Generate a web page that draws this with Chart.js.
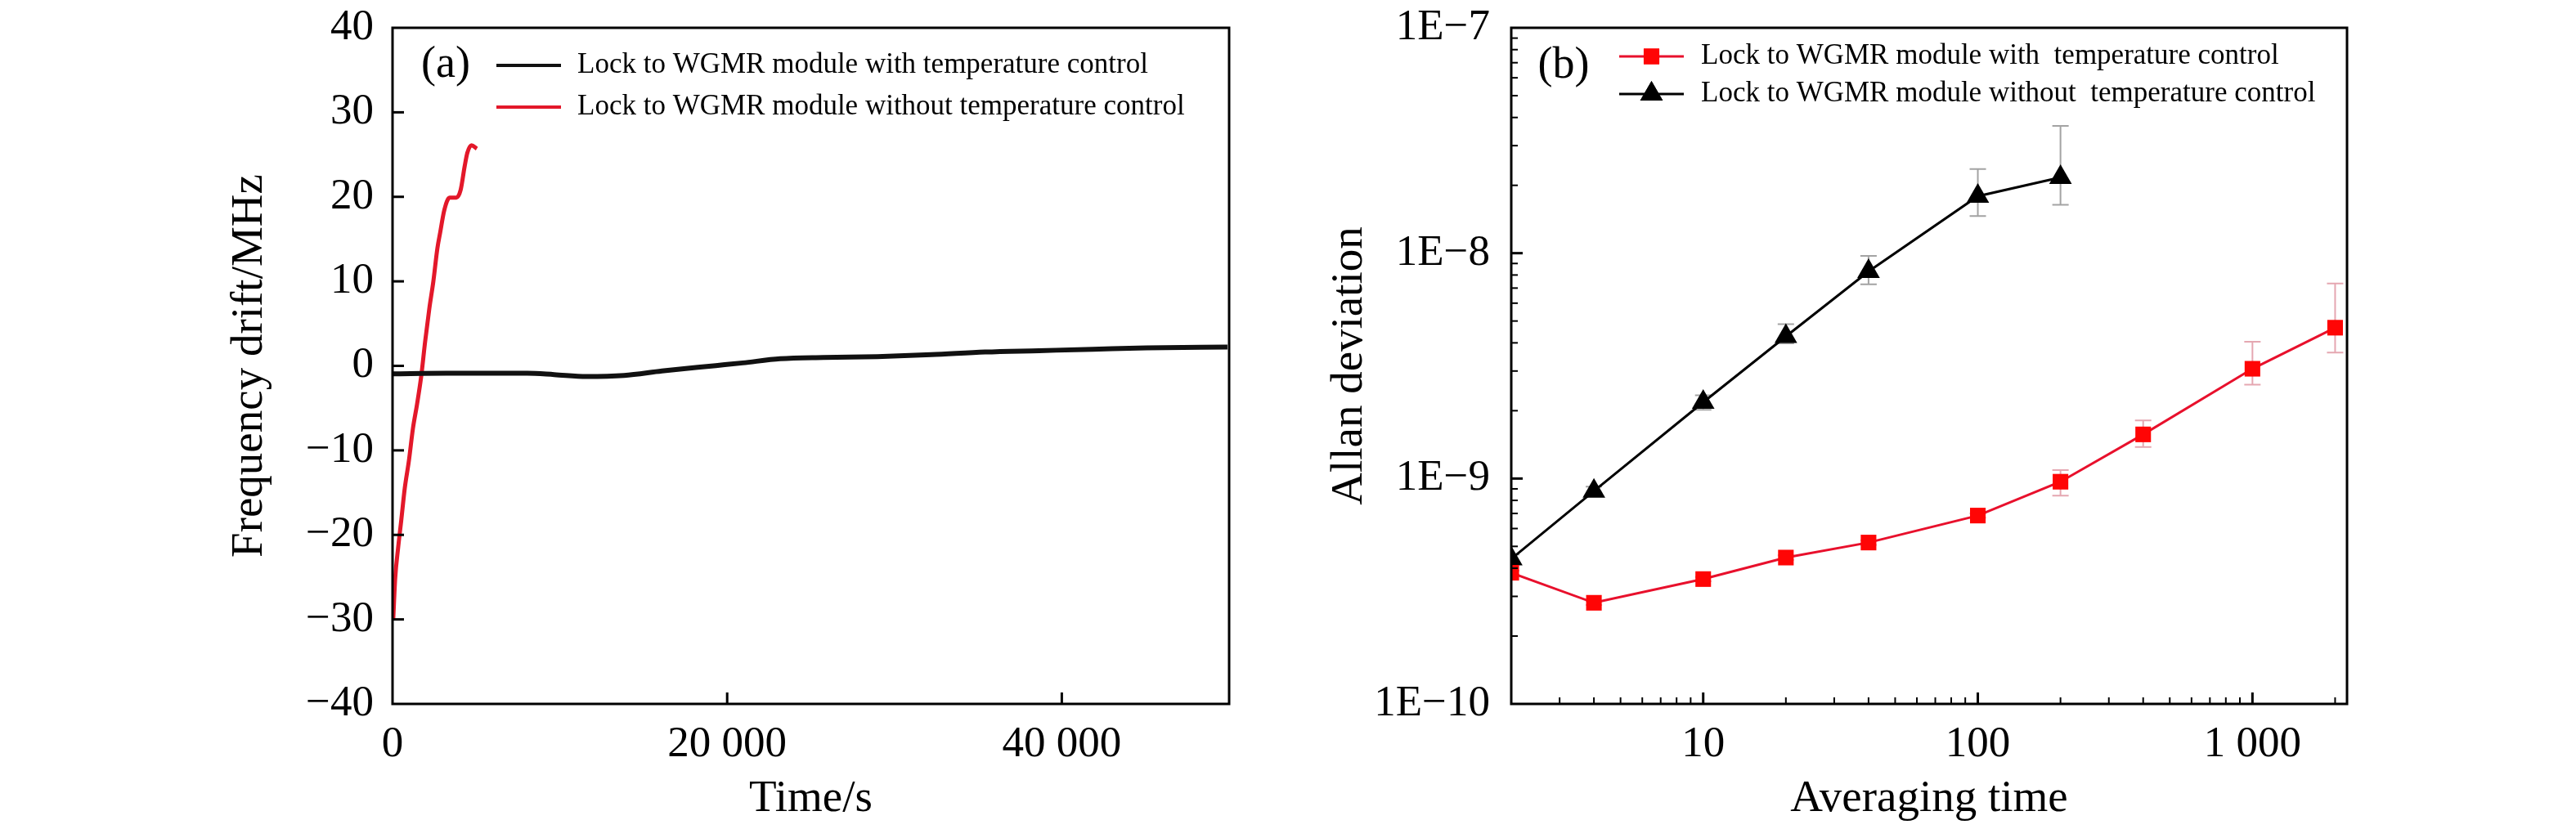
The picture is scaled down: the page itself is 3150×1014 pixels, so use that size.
<!DOCTYPE html>
<html><head><meta charset="utf-8">
<script src="https://cdn.jsdelivr.net/npm/chart.js@4/dist/chart.umd.min.js"></script>
<style>
html,body{margin:0;padding:0;background:#fff;width:3150px;height:1014px;overflow:hidden}
canvas{position:absolute;top:0}
#ca{left:0}
#cb{left:1575px}
</style></head>
<body>
<canvas id="ca" width="1575" height="1014"></canvas>
<canvas id="cb" width="1575" height="1014"></canvas>
<script>
const FONT = "'Liberation Serif','Times New Roman',serif";

// ---------- Panel (a) data ----------
const panelA = '(a)';
const labelA1 = 'Lock to WGMR module with temperature control';
const labelA2 = 'Lock to WGMR module without temperature control';
const timeWith = [0, 3220, 8050, 9660, 11590, 13840, 16100, 19320, 20930, 23170, 25750, 28970, 32200, 35420, 38640, 41850, 45070, 49900];
const driftWith = [-0.94, -0.87, -0.87, -1.03, -1.26, -1.13, -0.61, 0.03, 0.35, 0.84, 1.0, 1.1, 1.32, 1.64, 1.80, 1.96, 2.13, 2.22];
const timeWithout = [40, 160, 330, 520, 730, 980, 1220, 1460, 1710, 1950, 2200, 2440, 2680, 2850, 3090, 3410, 3820, 4070, 4310, 4470, 4720, 5040];
const driftWithout = [-30, -25.1, -21.6, -18.3, -14.5, -11.2, -7.4, -4.6, -1.3, 2.9, 6.8, 10.0, 13.9, 15.8, 18.4, 19.9, 19.9, 20.8, 23.6, 25.2, 26.1, 25.7];
const timeTicks = [0, 20000, 40000];
const driftTicks = [-40, -30, -20, -10, 0, 10, 20, 30, 40];
const titleXA = 'Time/s';
const titleYA = 'Frequency drift/MHz';

// ---------- Panel (b) data ----------
const panelB = '(b)';
const labelB1 = 'Lock to WGMR module with  temperature control';
const labelB2 = 'Lock to WGMR module without  temperature control';
const tauWith = [2, 4, 10, 20, 40, 100, 200, 400, 1000, 2000];
const adevWith = [3.82e-10, 2.81e-10, 3.58e-10, 4.46e-10, 5.2e-10, 6.85e-10, 9.68e-10, 1.57e-9, 3.07e-9, 4.67e-9];
const adevWithHi = [3.9e-10, 2.87e-10, 3.66e-10, 4.56e-10, 5.32e-10, 7.0e-10, 1.09e-9, 1.81e-9, 4.05e-9, 7.34e-9];
const adevWithLo = [3.74e-10, 2.75e-10, 3.5e-10, 4.36e-10, 5.08e-10, 6.7e-10, 8.4e-10, 1.38e-9, 2.61e-9, 3.62e-9];
const tauWithout = [2, 4, 10, 20, 40, 100, 200];
const adevWithout = [4.4e-10, 8.8e-10, 2.18e-9, 4.27e-9, 8.3e-9, 1.79e-8, 2.17e-8];
const adevWithoutHi = [4.6e-10, 9.2e-10, 2.34e-9, 4.84e-9, 9.73e-9, 2.36e-8, 3.67e-8];
const adevWithoutLo = [4.2e-10, 8.4e-10, 2.02e-9, 3.98e-9, 7.27e-9, 1.46e-8, 1.64e-8];
const tauTicks = [10, 100, 1000];
const adevTicks = [1e-10, 1e-9, 1e-8, 1e-7];
const titleXB = 'Averaging time';
const titleYB = 'Allan deviation';

const RED_A = '#e3182a';
const RED_LINE = 'rgb(232,16,44)';
const RED_PT = '#ff0505';
const PINK = '#e5a7b1';
const GREY = '#a3a3a3';

function grouped(v) { return String(v).replace(/\B(?=(\d{3})+(?!\d))/g, ' '); }
function minus(s) { return String(s).replace('-', '\u2212'); }
function pts(xs, ys) { return xs.map((x, i) => ({x: x, y: ys[i]})); }
function logMinor(min, max) {
  const out = [];
  for (let e = Math.floor(Math.log10(min)); e <= Math.ceil(Math.log10(max)); e++) {
    for (let m = 2; m <= 9; m++) { const v = m * Math.pow(10, e); if (v > min && v < max) out.push(v); }
  }
  return out;
}

const deco = {
  id: 'deco',
  beforeDatasetsDraw(chart, args, o) {
    const {ctx, chartArea: a} = chart;
    const xs = chart.scales.x, ys = chart.scales.y;
    ctx.save();
    ctx.beginPath(); ctx.rect(a.left, a.top, a.right - a.left, a.bottom - a.top); ctx.clip();
    (o.errors || []).forEach(e => {
      ctx.strokeStyle = e.color; ctx.lineWidth = 2;
      e.x.forEach((xv, i) => {
        const px = xs.getPixelForValue(xv), t = ys.getPixelForValue(e.hi[i]), b = ys.getPixelForValue(e.lo[i]);
        ctx.beginPath();
        ctx.moveTo(px, t); ctx.lineTo(px, b);
        ctx.moveTo(px - 10, t); ctx.lineTo(px + 10, t);
        ctx.moveTo(px - 10, b); ctx.lineTo(px + 10, b);
        ctx.stroke();
      });
    });
    ctx.restore();
  },
  afterDraw(chart, args, o) {
    const {ctx, chartArea: a} = chart;
    const xs = chart.scales.x, ys = chart.scales.y;
    ctx.save();
    ctx.strokeStyle = '#000';
    const tick = (x1, y1, x2, y2, w) => { ctx.lineWidth = w; ctx.beginPath(); ctx.moveTo(x1, y1); ctx.lineTo(x2, y2); ctx.stroke(); };
    o.xMajor.forEach(v => { const p = xs.getPixelForValue(v); if (p > a.left + 2 && p < a.right - 2) tick(p, a.bottom, p, a.bottom - 14, 3); });
    o.yMajor.forEach(v => { const p = ys.getPixelForValue(v); if (p > a.top + 2 && p < a.bottom - 2) tick(a.left, p, a.left + 14, p, 3); });
    (o.xMinor || []).forEach(v => { const p = xs.getPixelForValue(v); if (p > a.left + 2 && p < a.right - 2) tick(p, a.bottom, p, a.bottom - 8, 2); });
    (o.yMinor || []).forEach(v => { const p = ys.getPixelForValue(v); if (p > a.top + 2 && p < a.bottom - 2) tick(a.left, p, a.left + 8, p, 2); });
    ctx.lineWidth = 3;
    ctx.strokeRect(a.left, a.top, a.right - a.left, a.bottom - a.top);
    // panel tag
    ctx.fillStyle = '#000';
    ctx.textBaseline = 'middle'; ctx.textAlign = 'center';
    ctx.font = '54px ' + FONT;
    ctx.fillText(o.tag.text, o.tag.x, o.tag.y);
    // legend
    ctx.textAlign = 'left';
    ctx.font = '35px ' + FONT;
    o.legend.forEach(l => {
      const ds = chart.data.datasets[l.ds];
      ctx.strokeStyle = ds.borderColor; ctx.lineWidth = l.lw;
      ctx.beginPath(); ctx.moveTo(l.x1, l.y); ctx.lineTo(l.x2, l.y); ctx.stroke();
      if (l.marker) {
        ctx.fillStyle = ds.pointBackgroundColor;
        Chart.helpers.drawPoint(ctx, {pointStyle: ds.pointStyle, rotation: 0, borderWidth: 0}, (l.x1 + l.x2) / 2, l.y);
        Chart.helpers.drawPoint(ctx, {pointStyle: ds.pointStyle, radius: ds.pointRadius, rotation: 0, borderWidth: 0}, (l.x1 + l.x2) / 2, l.y);
        ctx.fill();
      }
      ctx.fillStyle = '#000';
      ctx.fillText(ds.label, l.tx, l.y);
    });
    ctx.restore();
  }
};

function yFit(w) { return s => { s.width = w; s.paddingTop = 0; s.paddingBottom = 0; s.paddingLeft = 0; s.paddingRight = 0; }; }
function xFit(h) { return s => { s.height = h; s.paddingLeft = 0; s.paddingRight = 0; s.paddingTop = 0; s.paddingBottom = 0; }; }
const tickFont = {family: FONT, size: 53};
const titleFont = {family: FONT, size: 55, lineHeight: 1};

// ---------- Chart (a) ----------
new Chart(document.getElementById('ca'), {
  type: 'line',
  data: {
    datasets: [
      {label: labelA1, data: pts(timeWith, driftWith), borderColor: '#111', borderWidth: 6, pointRadius: 0, cubicInterpolationMode: 'monotone', clip: 0},
      {label: labelA2, data: pts(timeWithout, driftWithout), borderColor: RED_A, borderWidth: 5, pointRadius: 0, cubicInterpolationMode: 'monotone', clip: 0}
    ]
  },
  options: {
    responsive: false, animation: false, devicePixelRatio: 1,
    layout: {padding: {left: 0, top: 34, right: 72, bottom: 0}},
    plugins: {
      legend: {display: false}, tooltip: {enabled: false},
      deco: {
        xMajor: timeTicks, yMajor: driftTicks,
        tag: {text: panelA, x: 545, y: 80},
        legend: [
          {ds: 0, x1: 607, x2: 686, y: 80, lw: 4, tx: 706},
          {ds: 1, x1: 607, x2: 686, y: 131, lw: 4, tx: 706}
        ]
      }
    },
    scales: {
      x: {
        type: 'linear', min: 0, max: 50000,
        afterBuildTicks: s => { s.ticks = timeTicks.map(v => ({value: v})); },
        afterFit: xFit(153),
        grid: {display: false, drawTicks: false}, border: {display: false},
        ticks: {font: tickFont, color: '#000', padding: 18, maxRotation: 0, callback: v => grouped(v)},
        title: {display: true, text: titleXA, font: titleFont, color: '#000', padding: {top: 0, bottom: 9}}
      },
      y: {
        type: 'linear', min: -40, max: 40,
        afterBuildTicks: s => { s.ticks = driftTicks.map(v => ({value: v})); },
        afterFit: yFit(480),
        grid: {display: false, drawTicks: false}, border: {display: false},
        ticks: {font: tickFont, color: '#000', padding: 23, callback: v => minus(v)},
        title: {display: true, text: titleYA, font: titleFont, color: '#000', padding: {top: 278, bottom: 0}}
      }
    }
  },
  plugins: [deco]
});

// ---------- Chart (b) ----------
new Chart(document.getElementById('cb'), {
  type: 'line',
  data: {
    datasets: [
      {label: labelB1, data: pts(tauWith, adevWith), borderColor: RED_LINE, borderWidth: 3,
       pointStyle: 'rect', pointRadius: 13.5, pointBackgroundColor: RED_PT, pointBorderWidth: 0, tension: 0, clip: 0},
      {label: labelB2, data: pts(tauWithout, adevWithout), borderColor: '#000', borderWidth: 3,
       pointStyle: 'triangle', pointRadius: 16, pointBackgroundColor: '#000', pointBorderWidth: 0, tension: 0, clip: 0}
    ]
  },
  options: {
    responsive: false, animation: false, devicePixelRatio: 1,
    layout: {padding: {left: 0, top: 34, right: 280, bottom: 0}},
    plugins: {
      legend: {display: false}, tooltip: {enabled: false},
      deco: {
        xMajor: tauTicks, yMajor: adevTicks,
        xMinor: logMinor(2, 2210), yMinor: logMinor(1e-10, 1e-7),
        errors: [
          {x: tauWithout, hi: adevWithoutHi, lo: adevWithoutLo, color: GREY},
          {x: tauWith, hi: adevWithHi, lo: adevWithLo, color: PINK}
        ],
        tag: {text: panelB, x: 337, y: 81},
        legend: [
          {ds: 0, x1: 405, x2: 484, y: 69, lw: 3, tx: 505, marker: true},
          {ds: 1, x1: 405, x2: 484, y: 115, lw: 3, tx: 505, marker: true}
        ]
      }
    },
    scales: {
      x: {
        type: 'logarithmic', min: 2, max: 2210,
        afterBuildTicks: s => { s.ticks = tauTicks.map(v => ({value: v})); },
        afterFit: xFit(153),
        grid: {display: false, drawTicks: false}, border: {display: false},
        ticks: {font: tickFont, color: '#000', padding: 18, maxRotation: 0, autoSkip: false, callback: v => grouped(v)},
        title: {display: true, text: titleXB, font: titleFont, color: '#000', padding: {top: 0, bottom: 9}}
      },
      y: {
        type: 'logarithmic', min: 1e-10, max: 1e-7,
        afterBuildTicks: s => { s.ticks = adevTicks.map(v => ({value: v})); },
        afterFit: yFit(273),
        grid: {display: false, drawTicks: false}, border: {display: false},
        ticks: {font: tickFont, color: '#000', padding: 26, autoSkip: false,
                callback: v => '1E\u2212' + Math.round(-Math.log10(v))},
        title: {display: true, text: titleYB, font: titleFont, color: '#000', padding: {top: 48, bottom: 0}}
      }
    }
  },
  plugins: [deco]
});
</script>
</body></html>
